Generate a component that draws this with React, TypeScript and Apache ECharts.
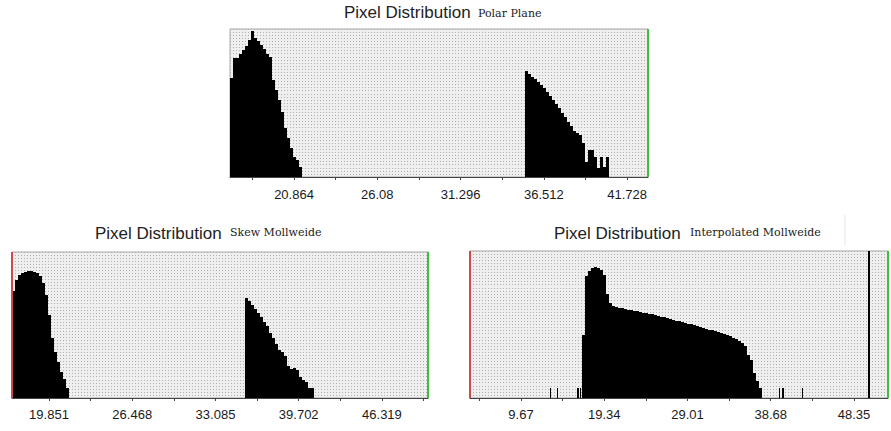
import React, { useEffect, useRef } from "react";
import * as echarts from "echarts";

// ---------- Data ----------
// Polar Plane
const polarAxis = { min: 16.854, max: 43.04, peak: 148 };
const polarTicks = [20.864, 26.08, 31.296, 36.512, 41.728];
const polarMinorTicks = [18.256, 23.472, 28.688, 33.904, 39.12];
const polarBinWidth = 0.188;
const polarLowStart = 16.854;
const polarLowCounts = [99, 119, 119, 123, 127, 131, 137, 146, 139, 136, 132, 128, 123, 120, 97, 87, 77, 65, 49, 39, 29, 20, 17, 10];
const polarHighStart = 35.337;
const polarHighCounts = [106, 103, 100, 98, 95, 92, 89, 85, 81, 77, 73, 69, 64, 60, 55, 51, 46, 44, 42, 34, 15, 27, 27, 20, 9, 20, 10, 20];

// Skew Mollweide
const skewAxis = { min: 16.91, max: 49.98, peak: 146 };
const skewTicks = [19.851, 26.468, 33.085, 39.702, 46.319];
const skewMinorTicks = [23.1595, 29.7765, 36.3935, 43.0105, 49.6275];
const skewBinWidth = 0.2385;
const skewLowStart = 16.91;
const skewLowCounts = [107, 118, 123, 125, 126, 127, 127, 126, 125, 122, 115, 103, 83, 60, 46, 36, 26, 19, 10];
const skewHighStart = 35.43;
const skewHighCounts = [100, 97, 93, 89, 85, 81, 76, 72, 65, 60, 54, 48, 46, 42, 32, 29, 30, 28, 21, 18, 16, 10, 10];

// Interpolated Mollweide
const interpAxis = { min: 3.75, max: 52.3, peak: 147 };
const interpTicks = [9.67, 19.34, 29.01, 38.68, 48.35];
const interpMinorTicks = [4.835, 14.505, 24.175, 33.845, 43.515];
const interpBinWidth = 0.3485;
const interpMainStart = 16.756;
const interpMainCounts = [63, 122, 127, 130, 131, 130, 128, 123, 104, 95, 92, 91, 90, 90, 89, 88, 88, 87, 87, 86, 85, 85, 84, 84, 83, 82, 81, 81, 80, 79, 78, 77, 77, 76, 75, 74, 74, 73, 72, 71, 70, 69, 68, 68, 67, 66, 65, 64, 63, 62, 60, 59, 57, 55, 52, 43, 38, 25, 17, 10];
const interpSpikeWidth = 0.174;
const interpSpikeValues = [13.04, 13.85, 16.18, 16.52, 39.64, 39.99, 42.31, 49.98];
const interpSpikeCounts = [10, 10, 10, 10, 10, 10, 10, 147];

const titles = ["Polar Plane", "Skew Mollweide", "Interpolated Mollweide"];

// ---------- helpers ----------
function bins(start: number, width: number, counts: number[]) {
  return counts.map((c, i) => [start + i * width, start + (i + 1) * width, c]);
}
function spikes(values: number[], width: number, counts: number[]) {
  return values.map((v, i) => [v, v + width, counts[i]]);
}
const fmt = (v: number) => String(parseFloat(Number(v).toFixed(3)));

const renderBar = (params: any, api: any) => {
  const x0 = api.value(0);
  const x1 = api.value(1);
  const h = api.value(2);
  const p0 = api.coord([x0, h]);
  const p1 = api.coord([x1, 0]);
  const left = Math.round(p0[0]);
  const right = Math.max(Math.round(p1[0]), left + 1);
  const top = Math.round(p0[1]);
  return {
    type: "rect",
    shape: { x: left, y: top, width: right - left, height: p1[1] - top },
    style: { fill: "#000" },
  };
};

export default function App() {
  const ref = useRef<HTMLDivElement>(null);
  useEffect(() => {
    if (!ref.current) return;
    const chart = echarts.init(ref.current, undefined, { renderer: "svg" });

    const axes = [polarAxis, skewAxis, interpAxis];
    const majors = [polarTicks, skewTicks, interpTicks];
    const minors = [polarMinorTicks, skewMinorTicks, interpMinorTicks];
    const grids = [
      { left: 230, top: 29, width: 418, height: 148 },
      { left: 12, top: 252, width: 416, height: 146 },
      { left: 470, top: 251, width: 418, height: 147 },
    ];
    const offsets = [6, 5, 5];

    const xAxis = axes.map((a, i) => ({
      type: "value",
      gridIndex: i,
      min: a.min,
      max: a.max,
      offset: offsets[i],
      axisLine: { show: true, lineStyle: { color: "#444", width: 1 } },
      axisTick: {
        show: true,
        length: 3,
        lineStyle: { color: "#444" },
        customValues: [...majors[i], ...minors[i]].sort((p, q) => p - q),
      },
      axisLabel: {
        customValues: majors[i],
        formatter: (v: number) => fmt(v),
        color: "#1a1a1a",
        fontSize: 13,
        fontFamily: "Liberation Sans",
        margin: 5,
      },
      splitLine: { show: false },
    }));

    const yAxis = axes.map((a, i) => ({
      type: "value",
      gridIndex: i,
      min: 0,
      max: a.peak,
      interval: a.peak / 48,
      axisLine: { show: false },
      axisTick: { show: false },
      axisLabel: { show: false },
      splitLine: { show: true, lineStyle: { color: "#b0b0b0", width: 1, type: [1, 2] } },
    }));

    const edgeLines = (a: any) => ({
      silent: true,
      symbol: ["none", "none"],
      label: { show: false },
      animation: false,
      data: [
        { xAxis: a.min, lineStyle: { color: "#cc4a4a", width: 2, type: "solid" } },
        { xAxis: a.max, lineStyle: { color: "#3fbf3f", width: 2, type: "solid" } },
      ],
    });

    const customSeries = (i: number, data: number[][], withEdges: boolean) => ({
      type: "custom",
      xAxisIndex: i,
      yAxisIndex: i,
      renderItem: renderBar,
      encode: { x: [0, 1], y: 2 },
      data,
      silent: true,
      markLine: withEdges ? edgeLines(axes[i]) : undefined,
    });

    const series = [
      customSeries(0, bins(polarLowStart, polarBinWidth, polarLowCounts), true),
      customSeries(0, bins(polarHighStart, polarBinWidth, polarHighCounts), false),
      customSeries(1, bins(skewLowStart, skewBinWidth, skewLowCounts), true),
      customSeries(1, bins(skewHighStart, skewBinWidth, skewHighCounts), false),
      customSeries(2, bins(interpMainStart, interpBinWidth, interpMainCounts), true),
      customSeries(2, spikes(interpSpikeValues, interpSpikeWidth, interpSpikeCounts), false),
    ];

    const mainPos = [
      [344, 12],
      [95, 233],
      [554, 233.5],
    ];
    const subPos = [
      [478, 13.2],
      [230, 232],
      [690, 232],
    ];
    const graphic: any[] = [];
    mainPos.forEach((p, i) => {
      graphic.push({
        type: "text",
        x: p[0],
        y: p[1],
        style: {
          text: "Pixel Distribution",
          fontSize: 17,
          fontFamily: "Liberation Sans",
          fill: "#222",
          verticalAlign: "middle",
        },
      });
      graphic.push({
        type: "text",
        x: subPos[i][0],
        y: subPos[i][1],
        style: {
          text: titles[i],
          fontSize: 11,
          fontFamily: "DejaVu Serif",
          fill: "#1a1a1a",
          verticalAlign: "middle",
        },
      });
    });
    graphic.push({
      type: "line",
      shape: { x1: 845, y1: 215, x2: 845, y2: 245 },
      style: { stroke: "#e4e4e4", lineWidth: 1 },
    });

    chart.setOption({
      animation: false,
      backgroundColor: "#ffffff",
      grid: grids.map((g) => ({
        ...g,
        show: true,
        backgroundColor: "#efefef",
        borderColor: "#a8a8a8",
        borderWidth: 1,
        containLabel: false,
      })),
      xAxis,
      yAxis,
      series,
      graphic,
    });
    return () => chart.dispose();
  }, []);

  return (
    <div
      ref={ref}
      style={{ position: "fixed", left: 0, top: 0, width: 891, height: 431 }}
    />
  );
}
